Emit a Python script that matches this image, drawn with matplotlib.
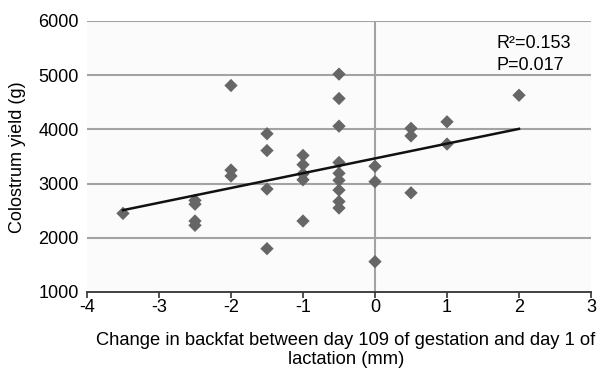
import matplotlib.pyplot as plt
import numpy as np

plt.rcParams['font.family'] = ['Liberation Sans', 'DejaVu Sans']
plt.rcParams['axes.unicode_minus'] = False

# change in backfat (mm) and colostrum yield (g); partly hidden points first
backfat = [-2.5, -2.5, -2, -1, -1, -0.5, -0.5, 0.5,
           -3.5, -2.5, -2.5, -2, -2, -1.5, -1.5, -1.5, -1.5,
           -1, -1, -1, -0.5, -0.5, -0.5, -0.5, -0.5, -0.5, -0.5,
           0, 0, 0, 0.5, 0.5, 1, 1, 2]
colostrum = [2620, 2230, 3250, 3350, 3070, 3060, 2550, 3880,
             2450, 2690, 2310, 4810, 3140, 3920, 3610, 2900, 1800,
             3520, 3180, 2310, 5020, 4570, 4060, 3390, 3190, 2880, 2670,
             3320, 3035, 1560, 4020, 2830, 4140, 3730, 4630]

trend_x = [-3.5, 2]
trend_y = [2510, 4010]

r2_text = 'R²=0.153'
p_text = 'P=0.017'

fig = plt.figure(figsize=(6.04, 3.68), dpi=100)
ax = fig.add_axes([87/604, 1-292/368, (591-87)/604, (292-21)/368])
ax.set_facecolor('#fbfbfb')

ax.set_xlim(-4, 3)
ax.set_ylim(1000, 6000)
ax.set_xticks(range(-4, 4))
ax.set_yticks(range(1000, 7000, 1000))
for y in range(2000, 7000, 1000):
    ax.axhline(y, color='#a3a3a3', lw=1.5, zorder=1)
ax.axvline(0, color='#a3a3a3', lw=1.5, zorder=1)

ax.scatter(backfat, colostrum, marker='D', s=46, color='#666666', zorder=3,
           edgecolors='none')
ax.plot(trend_x, trend_y, color='#111111', lw=1.8, zorder=4)

for s in ['top', 'right', 'left']:
    ax.spines[s].set_visible(False)
ax.spines['bottom'].set_color('#333333')
ax.spines['bottom'].set_linewidth(1.3)
ax.tick_params(axis='x', direction='out', length=4, width=1.2, color='#333333',
               labelsize=13, pad=1)
ax.tick_params(axis='y', length=0, labelsize=13, pad=6)

fig.text(497/604, 1-43/368, r2_text, fontsize=13, va='center')
fig.text(497/604, 1-65/368, p_text, fontsize=13, va='center')

fig.text(18/604, 1-157/368, 'Colostrum yield (g)', fontsize=13,
         rotation=90, ha='center', va='center')
fig.text(346/604, 1-350/368,
         'Change in backfat between day 109 of gestation and day 1 of\nlactation (mm)',
         ha='center', va='center', fontsize=13.2, linespacing=1.12)

fig.savefig('out.png', dpi=100)
